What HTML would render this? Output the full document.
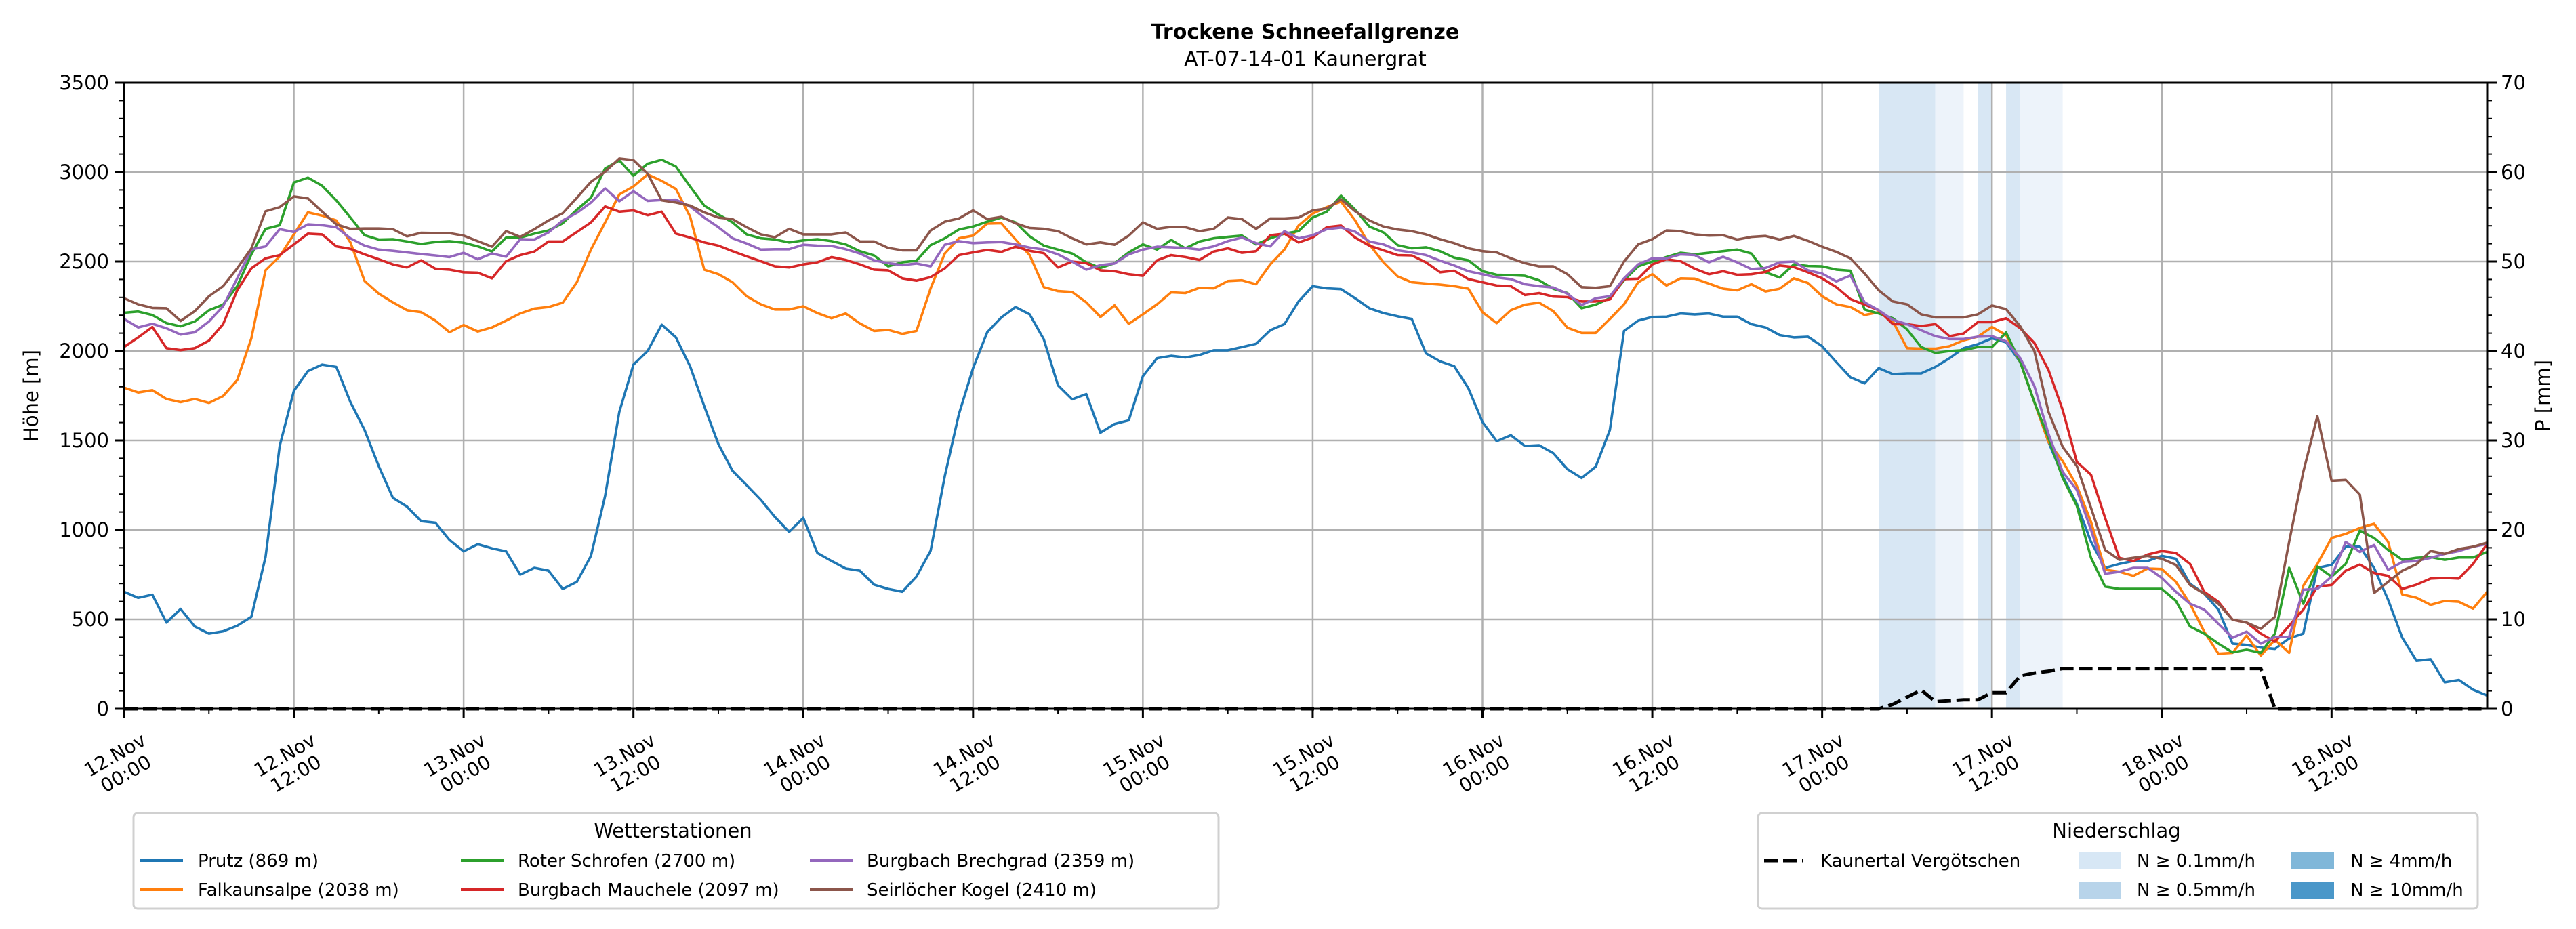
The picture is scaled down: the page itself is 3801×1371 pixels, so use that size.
<!DOCTYPE html>
<html><head><meta charset="utf-8"><style>
html,body{margin:0;padding:0;background:#fff;}
svg{display:block;font-family:"DejaVu Sans","Liberation Sans",sans-serif;}
</style></head><body>
<svg id="chart" width="3801" height="1371" viewBox="0 0 3801 1371" xmlns="http://www.w3.org/2000/svg">
<rect x="0" y="0" width="3801" height="1371" fill="#ffffff"/>
<text x="1926" y="57" text-anchor="middle" font-size="30" font-weight="bold">Trockene Schneefallgrenze</text>
<text x="1926" y="97" text-anchor="middle" font-size="30">AT-07-14-01 Kaunergrat</text>
<g id="bands"></g>
<g id="grid"></g>
<g id="series"></g>
<g id="axes"></g>
<text transform="translate(56,584) rotate(-90)" text-anchor="middle" font-size="29">Höhe [m]</text>
<text transform="translate(3762,584) rotate(-90)" text-anchor="middle" font-size="29">P [mm]</text>

<g>
<rect x="197" y="1200" width="1601" height="141" rx="6" fill="#fff" stroke="#d0d0d0" stroke-width="3"/>
<text x="993" y="1236" text-anchor="middle" font-size="29">Wetterstationen</text>
<g><line x1="207" y1="1270" x2="270" y2="1270" stroke="#1f77b4" stroke-width="4"/><text x="292" y="1279" font-size="26">Prutz (869 m)</text></g>
<g><line x1="207" y1="1313" x2="270" y2="1313" stroke="#ff7f0e" stroke-width="4"/><text x="292" y="1322" font-size="26">Falkaunsalpe (2038 m)</text></g>
<g><line x1="680" y1="1270" x2="743" y2="1270" stroke="#2ca02c" stroke-width="4"/><text x="764" y="1279" font-size="26">Roter Schrofen (2700 m)</text></g>
<g><line x1="680" y1="1313" x2="743" y2="1313" stroke="#d62728" stroke-width="4"/><text x="764" y="1322" font-size="26">Burgbach Mauchele (2097 m)</text></g>
<g><line x1="1195" y1="1270" x2="1258" y2="1270" stroke="#9467bd" stroke-width="4"/><text x="1279" y="1279" font-size="26">Burgbach Brechgrad (2359 m)</text></g>
<g><line x1="1195" y1="1313" x2="1258" y2="1313" stroke="#8c564b" stroke-width="4"/><text x="1279" y="1322" font-size="26">Seirlöcher Kogel (2410 m)</text></g>
</g>

<g>
<rect x="2594" y="1200" width="1062" height="141" rx="6" fill="#fff" stroke="#d0d0d0" stroke-width="3"/>
<text x="3123" y="1236" text-anchor="middle" font-size="29">Niederschlag</text>
<g><line x1="2603" y1="1270" x2="2660" y2="1270" stroke="#000" stroke-width="5" stroke-dasharray="20 8"/><text x="2686" y="1279" font-size="26">Kaunertal Vergötschen</text></g>
<g><rect x="3067" y="1258" width="63" height="25" fill="#d7e7f5"/><text x="3153" y="1279" font-size="26">N ≥ 0.1mm/h</text></g>
<g><rect x="3067" y="1301" width="63" height="25" fill="#b8d4ea"/><text x="3153" y="1322" font-size="26">N ≥ 0.5mm/h</text></g>
<g><rect x="3381" y="1258" width="63" height="25" fill="#80b7d9"/><text x="3468" y="1279" font-size="26">N ≥ 4mm/h</text></g>
<g><rect x="3381" y="1301" width="63" height="25" fill="#4a97c9"/><text x="3468" y="1322" font-size="26">N ≥ 10mm/h</text></g>
</g>
</svg>
<script>
const stationNames = ["Prutz","Falkaunsalpe","Roter Schrofen","Burgbach Mauchele","Burgbach Brechgrad","Seirlöcher Kogel"];
const prutz = [654,620,638,482,558,460,420,433,464,514,848,1469,1777,1888,1924,1911,1714,1558,1357,1179,1130,1049,1040,944,880,920,897,880,750,788,772,670,710,855,1190,1659,1924,2000,2147,2076,1915,1692,
1480,1330,1250,1168,1072,989,1067,871,826,784,772,694,670,654,739,884,1301,1647,1904,2105,2188,2246,2205,2065,1808,1730,1759,1543,1592,1612,1859,1960,1973,1964,1978,2004,2004,2022,2040,2116,2150,2277,
2362,2350,2346,2295,2239,2212,2194,2179,1987,1942,1915,1792,1603,1496,1529,1469,1473,1429,1339,1290,1353,1558,2112,2170,2190,2192,2210,2205,2210,2192,2192,2150,2132,2089,2076,2080,2027,1938,1853,1819,1904,1871,
1875,1875,1911,1960,2016,2038,2071,2049,1938,1714,1491,1301,1145,933,788,810,826,826,855,839,699,643,554,364,357,342,335,393,420,788,804,906,906,788,609,397,268,277,148,161,107,74];
const falkaunsalpe = [1795,1768,1781,1732,1714,1732,1710,1748,1837,2071,2451,2529,2652,2775,2757,2730,2607,2391,2321,2272,2228,2217,2170,2105,2145,2109,2132,2170,2210,2237,2246,2270,2384,2567,2719,2875,2920,2987,2951,2906,2752,2455,
2429,2384,2306,2261,2232,2232,2250,2212,2183,2210,2154,2112,2118,2096,2112,2350,2545,2630,2645,2712,2714,2623,2536,2357,2335,2330,2272,2190,2255,2152,2205,2261,2328,2324,2353,2350,2391,2395,2373,2484,2567,2701,
2768,2804,2835,2730,2596,2496,2417,2384,2377,2371,2362,2348,2217,2156,2228,2259,2270,2223,2130,2101,2101,2179,2261,2384,2429,2366,2406,2404,2377,2348,2339,2373,2333,2348,2406,2380,2306,2261,2246,2201,2217,2165,
2016,2013,2013,2027,2060,2080,2134,2089,1938,1714,1491,1384,1246,1045,777,766,743,784,781,710,587,431,308,313,409,297,386,313,688,810,955,978,1011,1034,933,639,621,581,603,598,560,654];
const roterSchrofen = [2214,2221,2201,2156,2138,2165,2228,2259,2362,2540,2683,2703,2942,2969,2924,2842,2746,2647,2623,2625,2612,2598,2609,2614,2605,2585,2556,2634,2634,2656,2674,2714,2790,2857,3020,3065,2980,3047,3069,3031,2920,2813,
2763,2719,2652,2630,2623,2607,2618,2625,2614,2596,2558,2534,2473,2496,2505,2592,2630,2679,2696,2723,2746,2719,2641,2589,2567,2545,2496,2464,2491,2551,2596,2567,2621,2574,2612,2630,2638,2645,2596,2630,2656,2670,
2746,2779,2868,2790,2696,2663,2592,2574,2580,2558,2522,2507,2446,2426,2424,2420,2395,2348,2324,2239,2259,2295,2395,2473,2500,2525,2549,2540,2549,2558,2567,2545,2440,2411,2484,2475,2473,2455,2449,2232,2210,2183,
2121,2022,1989,2000,2005,2022,2022,2103,1938,1714,1513,1290,1134,844,683,670,670,670,670,603,460,420,364,315,330,313,420,788,587,795,739,810,996,955,888,833,844,848,833,846,846,877];
const mauchele = [2022,2076,2134,2016,2005,2016,2058,2150,2339,2462,2518,2536,2596,2656,2652,2585,2571,2540,2513,2484,2467,2507,2460,2455,2440,2438,2406,2502,2536,2556,2612,2612,2665,2719,2808,2779,2786,2759,2779,2656,2634,2607,
2589,2558,2529,2502,2473,2467,2484,2496,2525,2509,2484,2455,2451,2406,2393,2413,2462,2536,2551,2565,2554,2583,2560,2547,2467,2500,2491,2451,2446,2429,2420,2507,2536,2525,2509,2556,2574,2549,2558,2647,2656,2607,
2634,2692,2701,2634,2589,2563,2536,2534,2496,2440,2449,2402,2384,2366,2362,2313,2324,2304,2301,2277,2277,2288,2402,2404,2484,2513,2502,2460,2429,2446,2426,2429,2442,2478,2469,2440,2406,2357,2290,2259,2228,2150,
2150,2139,2150,2083,2098,2161,2161,2183,2127,2045,1893,1670,1380,1308,1067,844,826,862,882,871,810,654,598,498,482,420,375,464,554,683,692,772,806,759,743,670,694,728,732,728,810,922];
const brechgrad = [2179,2132,2152,2127,2092,2105,2165,2250,2406,2567,2585,2681,2665,2708,2703,2692,2630,2589,2567,2560,2551,2542,2534,2525,2549,2513,2545,2527,2625,2623,2663,2730,2772,2830,2909,2837,2893,2839,2844,2846,2808,2746,
2692,2630,2601,2567,2569,2569,2594,2589,2587,2569,2545,2507,2491,2480,2489,2473,2594,2614,2603,2607,2609,2596,2578,2567,2540,2500,2455,2480,2489,2540,2567,2583,2580,2576,2567,2585,2614,2634,2603,2585,2670,2630,
2647,2681,2690,2667,2612,2596,2563,2551,2536,2505,2478,2446,2429,2411,2402,2373,2362,2355,2321,2257,2295,2306,2406,2484,2518,2518,2540,2536,2496,2527,2496,2458,2464,2496,2500,2451,2433,2389,2422,2272,2228,2174,
2150,2116,2083,2067,2067,2080,2083,2054,1960,1804,1536,1324,1223,1000,755,766,788,788,732,654,587,554,475,397,431,364,402,402,665,670,739,933,877,915,777,821,826,844,866,882,906,922];
const seirloecher = [2295,2261,2241,2239,2168,2223,2306,2362,2462,2574,2781,2804,2864,2853,2779,2708,2683,2685,2685,2681,2641,2661,2659,2659,2645,2614,2583,2670,2638,2681,2730,2770,2857,2946,3002,3076,3067,2991,2842,2830,2813,2775,
2746,2737,2692,2652,2636,2683,2652,2652,2652,2663,2612,2612,2576,2563,2563,2674,2723,2741,2786,2737,2750,2714,2688,2683,2670,2630,2596,2607,2594,2645,2719,2683,2694,2692,2670,2683,2746,2737,2683,2741,2741,2746,
2786,2797,2848,2781,2730,2696,2679,2670,2652,2625,2603,2574,2558,2551,2518,2491,2473,2473,2429,2357,2353,2362,2500,2596,2625,2674,2670,2652,2645,2647,2623,2638,2643,2623,2643,2616,2583,2554,2518,2433,2339,2277,
2261,2205,2188,2188,2188,2205,2254,2234,2138,2000,1659,1464,1357,1123,888,833,844,855,839,804,692,643,587,498,482,447,514,933,1324,1636,1275,1279,1197,647,710,772,808,882,866,893,906,929];
const precip = [0,0,0,0,0,0,0,0,0,0,0,0,0,0,0,0,0,0,0,0,0,0,0,0,0,0,0,0,0,0,0,0,0,0,0,0,0,0,0,0,0,0,
0,0,0,0,0,0,0,0,0,0,0,0,0,0,0,0,0,0,0,0,0,0,0,0,0,0,0,0,0,0,0,0,0,0,0,0,0,0,0,0,0,0,
0,0,0,0,0,0,0,0,0,0,0,0,0,0,0,0,0,0,0,0,0,0,0,0,0,0,0,0,0,0,0,0,0,0,0,0,0,0,0,0,0,0.5,
1.3,2.1,0.8,0.9,1.0,1.0,1.8,1.8,3.7,4.0,4.2,4.5,4.5,4.5,4.5,4.5,4.5,4.5,4.5,4.5,4.5,4.5,4.5,4.5,4.5,4.5,0,0,0,0,0,0,0,0,0,0,0,0,0,0,0,0];
const bandStart = [124,128,131,133,134];
const bandEnd = [128,130,132,134,137];
const bandLevel = [0.5,0.1,0.5,0.5,0.1];
const yTicks = [0,500,1000,1500,2000,2500,3000,3500];
const y2Ticks = [0,10,20,30,40,50,60,70];
const xTickHours = [0,12,24,36,48,60,72,84,96,108,120,132,144,156];
const xTickDates = ["12.Nov","12.Nov","13.Nov","13.Nov","14.Nov","14.Nov","15.Nov","15.Nov","16.Nov","16.Nov","17.Nov","17.Nov","18.Nov","18.Nov"];
const xTickTimes = ["00:00","12:00","00:00","12:00","00:00","12:00","00:00","12:00","00:00","12:00","00:00","12:00","00:00","12:00"];

const L=183,R=3670,T=122,B=1046,HMAX=167,YMAX=3500,PMAX=70;
const NS="http://www.w3.org/2000/svg";
function xS(h){return L+h*(R-L)/HMAX;}
function yS(v){return B-v*(B-T)/YMAX;}
function pS(v){return B-v*(B-T)/PMAX;}
function mk(tag,attrs,parent){const e=document.createElementNS(NS,tag);for(const k in attrs)e.setAttribute(k,attrs[k]);parent.appendChild(e);return e;}
const gB=document.getElementById('bands'),gG=document.getElementById('grid'),gS=document.getElementById('series'),gA=document.getElementById('axes');
const bandColor={0.1:"#edf3fa",0.5:"#d8e7f4"};
bandStart.forEach((s,i)=>{
  const r=mk('rect',{x:xS(s),y:T,width:xS(bandEnd[i])-xS(s),height:B-T,fill:bandColor[bandLevel[i]]},gB);
  
  
});
yTicks.forEach(v=>{
  const l=mk('line',{x1:L,x2:R,y1:yS(v),y2:yS(v),stroke:"#b0b0b0","stroke-width":2.5},gG);
  
  
});
xTickHours.forEach(h=>{
  const l=mk('line',{x1:xS(h),x2:xS(h),y1:T,y2:B,stroke:"#b0b0b0","stroke-width":2.5},gG);
  
  
});
const seriesData=[prutz,falkaunsalpe,roterSchrofen,mauchele,brechgrad,seirloecher];
const colors=["#1f77b4","#ff7f0e","#2ca02c","#d62728","#9467bd","#8c564b"];
const sNames=["line-prutz","line-falkaunsalpe","line-roter-schrofen","line-burgbach-mauchele","line-burgbach-brechgrad","line-seirloecher-kogel"];
seriesData.forEach((d,i)=>{
  const pts=d.map((v,h)=>xS(h).toFixed(1)+","+yS(v).toFixed(1)).join(" ");
  const p=mk('polyline',{points:pts,fill:"none",stroke:colors[i],"stroke-width":3.6,"stroke-linejoin":"round"},gS);
  
  
});
const pp=precip.map((v,h)=>xS(h).toFixed(1)+","+pS(v).toFixed(1)).join(" ");
const pl=mk('polyline',{points:pp,fill:"none",stroke:"#000","stroke-width":5,"stroke-dasharray":"20 8"},gS);


// frame
const fr=mk('rect',{x:L,y:T,width:R-L,height:B-T,fill:"none",stroke:"#000","stroke-width":3},gA);


// y ticks
for(let v=0;v<=YMAX;v+=100){
  const major=v%500===0;
  const t=mk('line',{x1:L-(major?14:7),x2:L,y1:yS(v),y2:yS(v),stroke:"#000","stroke-width":major?3:2},gA);
  
  
}
yTicks.forEach(v=>{
  const t=mk('text',{x:L-22,y:yS(v)+10,"text-anchor":"end","font-size":29},gA);
  t.textContent=v;
  
  
});
for(let v=0;v<=PMAX;v+=2){
  const major=v%10===0;
  const t=mk('line',{x1:R,x2:R+(major?14:7),y1:pS(v),y2:pS(v),stroke:"#000","stroke-width":major?3:2},gA);
  
  
}
y2Ticks.forEach(v=>{
  const t=mk('text',{x:R+20,y:pS(v)+10,"text-anchor":"start","font-size":29},gA);
  t.textContent=v;
  
  
});
for(let h=0;h<=HMAX;h+=6){
  const major=h%12===0;
  const t=mk('line',{x1:xS(h),x2:xS(h),y1:B,y2:B+(major?14:7),stroke:"#000","stroke-width":major?3:2},gA);
  
  
}
xTickHours.forEach((h,i)=>{
  const g=mk('g',{transform:"translate("+(xS(h)-6)+",1127) rotate(-30)"},gA);
  
  
  const a=mk('text',{x:0,y:-5,"text-anchor":"middle","font-size":28},g);a.textContent=xTickDates[i];
  const b=mk('text',{x:0,y:27,"text-anchor":"middle","font-size":28},g);b.textContent=xTickTimes[i];
});
</script>
</body></html>
